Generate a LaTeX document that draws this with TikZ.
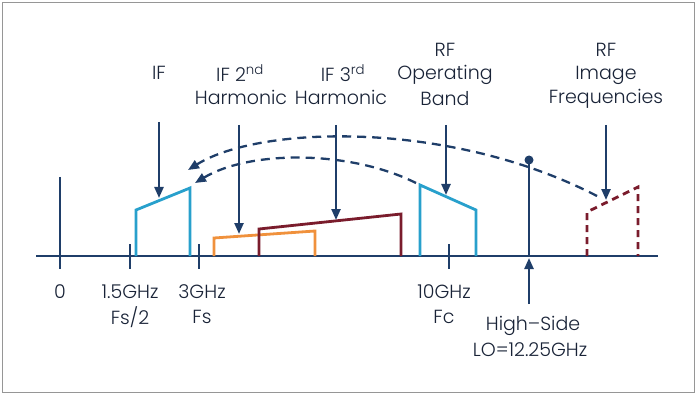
\documentclass[tikz,border=0pt]{standalone}
\usepackage{fontspec}
\setmainfont{Poppins Light}
\usetikzlibrary{arrows.meta}
\definecolor{navy}{RGB}{31,62,105}
\definecolor{ifcyan}{RGB}{40,160,204}
\definecolor{harm2}{RGB}{240,145,60}
\definecolor{harm3}{RGB}{122,28,44}
\definecolor{frame}{RGB}{150,150,150}
\definecolor{txt}{RGB}{25,35,55}
\tikzset{
  lbl/.style={font=\fontsize{19}{22}\selectfont, text=txt, inner sep=0pt, align=center},
  axisline/.style={navy, line width=2.8pt},
  tickline/.style={navy, line width=2.3pt},
  band/.style={line width=2.8pt, line join=miter},
  downarrow/.style={navy, line width=2.3pt, -{Triangle[length=11pt,width=9pt]}},
  curvearrow/.style={navy, line width=2.3pt, dash pattern=on 9pt off 6pt, -{Triangle[length=11pt,width=9pt]}}
}
\begin{document}
\begin{tikzpicture}[x=1pt,y=-1pt]
\useasboundingbox (0,0) rectangle (698,398);
\draw[frame, line width=1pt] (2.5,3) rectangle (694,392);
% axis
\coordinate (axL) at (36,256);
\coordinate (axR) at (658,256);
\draw[axisline] (axL) -- (axR);
% ticks
\draw[tickline] (60,177) -- (60,269);
\draw[tickline] (130,244) -- (130,269);
\draw[tickline] (199,244) -- (199,269);
\draw[tickline] (449,244) -- (449,269);
% bands
\draw[band, ifcyan] (136,256) -- (136,210) -- (190,188) -- (190,256);
\draw[band, ifcyan] (420,256) -- (420,185) -- (476,210) -- (476,256);
\draw[band, harm2] (214,256) -- (214,238) -- (315,231) -- (315,256);
\draw[band, harm3] (259,256) -- (259,229) -- (401,214) -- (401,256);
\draw[band, harm3, dash pattern=on 7pt off 5pt] (587,256) -- (587,212) -- (638,187) -- (638,256);
% LO
\coordinate (loTop) at (529,160);
\draw[navy, line width=2.3pt] (529,256) -- (loTop);
\fill[navy] (loTop) circle (4.5pt);
\coordinate (loArrS) at (529,304);
\coordinate (loArrE) at (529,258);
\draw[downarrow] (loArrS) -- (loArrE);
% top labels
\node[lbl] (lIF) at (159,73) {IF};
\node[lbl] (lIF2) at (240,73) {IF 2\textsuperscript{nd}};
\node[lbl] (lIF2b) at (241,97) {Harmonic};
\node[lbl] (lIF3) at (343,73) {IF 3\textsuperscript{rd}};
\node[lbl] (lIF3b) at (341,97) {Harmonic};
\node[lbl] (lRF1) at (445,50) {RF};
\node[lbl] (lRF2) at (445,75) {Operating};
\node[lbl] (lRF3) at (445,99) {Band};
\node[lbl] (lIm1) at (606,50) {RF};
\node[lbl] (lIm2) at (606,75) {Image};
\node[lbl] (lIm3) at (606,99) {Frequencies};
% down arrows
\coordinate (aIFs) at (159,122); \coordinate (aIFe) at (159,198);
\coordinate (a2s) at (239,125); \coordinate (a2e) at (239,234);
\coordinate (a3s) at (336,125); \coordinate (a3e) at (336,220);
\coordinate (aRs) at (446,125); \coordinate (aRe) at (446,195);
\coordinate (aIs) at (606,125); \coordinate (aIe) at (606,200);
\draw[downarrow] (aIFs) -- (aIFe);
\draw[downarrow] (a2s) -- (a2e);
\draw[downarrow] (a3s) -- (a3e);
\draw[downarrow] (aRs) -- (aRe);
\draw[downarrow] (aIs) -- (aIe);
% curved dashed arrows
\coordinate (cUs) at (597,196); \coordinate (cUe) at (188,170);
\coordinate (cLs) at (416,183); \coordinate (cLe) at (195,183);
\draw[curvearrow] (cUs) .. controls (450,120) and (260,125) .. (cUe);
\draw[curvearrow] (cLs) .. controls (350,150) and (250,150) .. (cLe);
% bottom labels
\node[lbl] (b0) at (60,292) {0};
\node[lbl] (b15) at (130,292) {1.5GHz};
\node[lbl] (b15b) at (130,317) {Fs/2};
\node[lbl] (b3) at (202,292) {3GHz};
\node[lbl] (b3b) at (202,317) {Fs};
\node[lbl] (b10) at (444,292) {10GHz};
\node[lbl] (b10b) at (444,317) {Fc};
\node[lbl] (bLO1) at (533,326) {High–Side};
\node[lbl] (bLO2) at (530,350) {LO=12.25GHz};
\end{tikzpicture}
\end{document}
